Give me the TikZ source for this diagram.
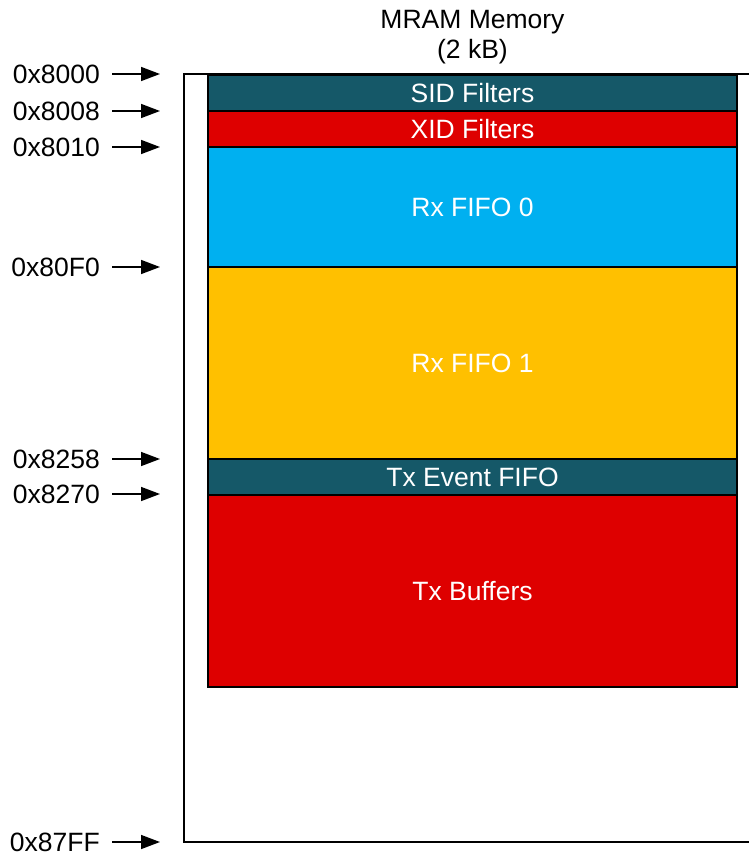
\documentclass[tikz,border=0pt]{standalone}
\usepackage{fontspec}
\setmainfont{Liberation Sans}
\usetikzlibrary{arrows.meta,positioning}
\definecolor{mramteal}{RGB}{21,88,104}
\definecolor{mramred}{RGB}{222,0,0}
\definecolor{mramblue}{RGB}{0,176,240}
\definecolor{mramamber}{RGB}{255,192,0}
\tikzset{
  block/.style={draw=black,line width=1.5pt,minimum width=529pt,inner sep=0pt,
    outer sep=0pt,text=white,font=\fontsize{26.5}{30}\selectfont},
  addr/.style={inner sep=0pt,font=\fontsize{26.5}{30}\selectfont},
  addrarrow/.style={line width=1.5pt,-{Triangle[length=19pt,width=14pt]}}
}
\newcommand{\Block}[5]% top, bottom, colour, name, text
{\node[block,fill=#3,minimum height={(#2-#1)*1pt}] (#4) at (472.5,{(#1+#2)/2}) {#5};
}
\newcommand{\Addr}[3]% y, name, text
{\node[addr,anchor=east] (#2) at (100,#1) {#3};
  \coordinate (#2t) at (160,#1);
  \draw[addrarrow] ([xshift=12pt]#2.east) -- (#2t);
}

\begin{document}
\begin{tikzpicture}[x=1pt,y=-1pt]
  \useasboundingbox (0,0) rectangle (749,857);
  \node[align=center,font=\fontsize{26.5}{30}\selectfont] (mramtitle) at (472.5,37) {MRAM Memory\\(2 kB)};
  \draw[line width=1.5pt] (184,74) rectangle (770,842);
  \Block{75}{111}{mramteal}{sid}{SID Filters}
  \Block{111}{147}{mramred}{xid}{XID Filters}
  \Block{147}{267}{mramblue}{rxf0}{Rx FIFO 0}
  \Block{267}{459}{mramamber}{rxf1}{Rx FIFO 1}
  \Block{459}{495}{mramteal}{txevt}{Tx Event FIFO}
  \Block{495}{687}{mramred}{txbuf}{Tx Buffers}
  \Addr{74}{a8000}{0x8000}
  \Addr{111}{a8008}{0x8008}
  \Addr{147}{a8010}{0x8010}
  \Addr{267}{a80F0}{0x80F0}
  \Addr{459}{a8258}{0x8258}
  \Addr{494}{a8270}{0x8270}
  \Addr{842}{a87FF}{0x87FF}
\end{tikzpicture}
\end{document}
